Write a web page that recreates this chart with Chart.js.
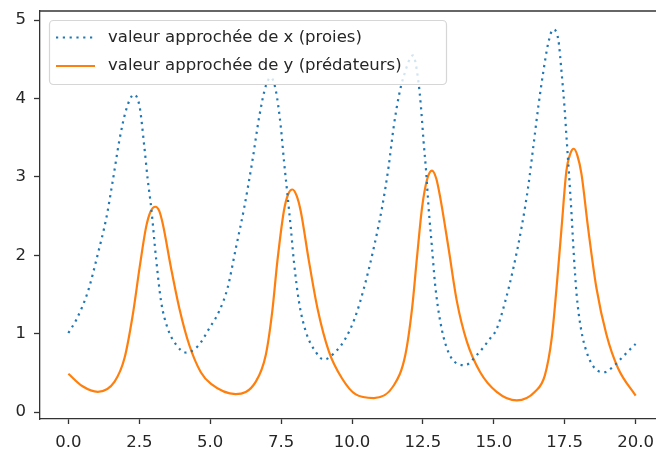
<!DOCTYPE html>
<html>
<head>
<meta charset="utf-8">
<script src="https://cdn.jsdelivr.net/npm/chart.js@4/dist/chart.umd.min.js"></script>
<style>
    html, body { margin: 0; padding: 0; background: #fff; overflow: hidden; }
    .wrap { width: 656px; height: 450px; overflow: hidden; }
    .box { width: 680px; height: 450px; }
</style>
</head>
<body>
<div class="wrap"><div class="box"><canvas class="lvGraph"></canvas></div></div>
<script>
// approximate values
const tProies = [0.00, 0.28, 0.69, 1.04, 1.34, 1.57, 1.80, 2.04, 2.31, 2.51, 2.68, 2.80, 2.92, 3.09, 3.27, 3.50, 3.80, 4.15, 4.56, 4.97,
    5.32, 5.61, 5.91, 6.20, 6.49, 6.73, 6.96, 7.14, 7.31, 7.49, 7.60, 7.72, 7.84, 7.95, 8.13, 8.37, 8.72, 9.01, 9.42, 9.77,
    10.10, 10.42, 10.77, 11.06, 11.29, 11.47, 11.65, 11.82, 12.15, 12.33, 12.43, 12.52, 12.62, 12.70, 12.82, 12.93, 13.11, 13.35, 13.70, 13.99,
    14.40, 14.87, 15.10, 15.40, 15.69, 15.98, 16.21, 16.39, 16.57, 16.74, 16.92, 17.09, 17.27, 17.39, 17.49, 17.57, 17.65, 17.74, 17.82, 17.92,
    18.07, 18.27, 18.56, 18.91, 19.26, 19.61, 19.91, 20.00];
const xProies = [1.01, 1.18, 1.54, 2.02, 2.48, 2.96, 3.47, 3.86, 4.05, 3.90, 3.38, 2.96, 2.61, 1.97, 1.41, 1.07, 0.86, 0.76, 0.84, 1.07,
    1.29, 1.58, 2.10, 2.61, 3.21, 3.77, 4.16, 4.27, 4.11, 3.64, 3.21, 2.79, 2.36, 1.93, 1.41, 1.03, 0.77, 0.67, 0.77, 0.94,
    1.20, 1.58, 2.10, 2.61, 3.13, 3.64, 4.03, 4.28, 4.55, 4.25, 3.90, 3.47, 3.04, 2.61, 2.10, 1.63, 1.16, 0.81, 0.62, 0.60,
    0.73, 0.94, 1.06, 1.41, 1.84, 2.36, 2.87, 3.38, 3.90, 4.33, 4.71, 4.88, 4.76, 4.33, 3.90, 3.47, 3.04, 2.53, 2.01, 1.50,
    1.07, 0.77, 0.56, 0.51, 0.60, 0.73, 0.84, 0.87];

const tPredateurs = [0.00, 0.50, 1.04, 1.63, 1.98, 2.27, 2.51, 2.74, 2.90, 3.07, 3.20, 3.33, 3.62, 3.91, 4.26, 4.67, 5.03, 5.90, 6.61, 6.96,
    7.19, 7.37, 7.60, 7.75, 7.90, 8.05, 8.19, 8.48, 8.78, 9.19, 9.65, 10.12, 10.77, 11.47, 11.88, 12.12, 12.29, 12.47, 12.65, 12.82,
    12.97, 13.11, 13.40, 13.70, 14.05, 14.52, 15.10, 15.81, 16.45, 16.80, 17.04, 17.21, 17.39, 17.56, 17.70, 17.82, 17.95, 18.09, 18.32, 18.62,
    18.97, 19.38, 20.00];
const yPredateurs = [0.49, 0.33, 0.26, 0.39, 0.69, 1.24, 1.84, 2.36, 2.56, 2.62, 2.57, 2.40, 1.84, 1.33, 0.86, 0.51, 0.36, 0.23, 0.39, 0.73,
    1.29, 1.93, 2.57, 2.78, 2.84, 2.76, 2.57, 1.93, 1.33, 0.77, 0.43, 0.23, 0.18, 0.34, 0.73, 1.33, 1.97, 2.61, 2.97, 3.08,
    2.98, 2.74, 2.10, 1.41, 0.90, 0.51, 0.26, 0.15, 0.26, 0.47, 0.94, 1.58, 2.36, 3.08, 3.30, 3.36, 3.27, 3.04, 2.36, 1.58,
    0.99, 0.56, 0.21];

const xTicks = [0, 2.5, 5, 7.5, 10, 12.5, 15, 17.5, 20];
const yTicks = [0, 1, 2, 3, 4, 5];

const labelFont = { family: 'DejaVu Sans', size: 16.5 };
const textColor = '#262626';

// top frame line + legend box drawn inside the axes, like matplotlib
const framePlugin = {
    id: 'frame',
    afterDraw(chart) {
        const ctx = chart.ctx;
        const area = chart.chartArea;
        ctx.save();
        ctx.strokeStyle = '#333';
        ctx.lineWidth = 1.3;
        ctx.beginPath();
        ctx.moveTo(area.left, area.top);
        ctx.lineTo(area.right, area.top);
        ctx.stroke();

        // legend
        const x0 = 49.5, y0 = 20.5, w = 397, h = 64, r = 4;
        ctx.beginPath();
        ctx.roundRect(x0, y0, w, h, r);
        ctx.fillStyle = 'rgba(255,255,255,0.8)';
        ctx.fill();
        ctx.strokeStyle = 'rgba(204,204,204,0.8)';
        ctx.lineWidth = 1.2;
        ctx.stroke();

        const rows = [37.5, 66];
        chart.data.datasets.forEach((ds, i) => {
            ctx.beginPath();
            ctx.strokeStyle = ds.borderColor;
            ctx.lineWidth = ds.borderWidth;
            ctx.setLineDash(ds.borderDash || []);
            ctx.moveTo(56, rows[i]);
            ctx.lineTo(95, rows[i]);
            ctx.stroke();
            ctx.setLineDash([]);
            ctx.fillStyle = textColor;
            ctx.font = '16.5px "DejaVu Sans"';
            ctx.textBaseline = 'middle';
            ctx.fillText(ds.label, 108, rows[i]);
        });
        ctx.restore();
    }
};

function createLVGraph() {
    const ctx = document.querySelector('.lvGraph').getContext('2d');
    return new Chart(ctx, {
        type: 'line',
        data: {
            datasets: [{
                label: 'valeur approchée de x (proies)',
                data: tProies.map((t, i) => ({ x: t, y: xProies[i] })),
                borderColor: '#1f77b4',
                borderWidth: 2.2,
                borderDash: [2.2, 4.6],
                pointRadius: 0,
                cubicInterpolationMode: 'monotone',
                fill: false
            }, {
                label: 'valeur approchée de y (prédateurs)',
                data: tPredateurs.map((t, i) => ({ x: t, y: yPredateurs[i] })),
                borderColor: '#ff7f0e',
                borderWidth: 2.2,
                pointRadius: 0,
                cubicInterpolationMode: 'monotone',
                fill: false
            }]
        },
        options: {
            responsive: true,
            maintainAspectRatio: false,
            animation: false,
            devicePixelRatio: 1,
            layout: {
                padding: { top: 11, right: 16, left: 0, bottom: 0 }
            },
            plugins: {
                legend: { display: false },
                tooltip: { enabled: false }
            },
            scales: {
                x: {
                    type: 'linear',
                    min: -1,
                    max: 21,
                    afterBuildTicks: scale => { scale.ticks = xTicks.map(v => ({ value: v })); },
                    afterFit: scale => { scale.height = 31; scale.paddingLeft = 0; scale.paddingRight = 0; },
                    grid: { drawOnChartArea: false, tickLength: 5, tickColor: '#333', tickWidth: 1.3 },
                    border: { color: '#333', width: 1.3 },
                    ticks: {
                        font: labelFont,
                        color: textColor,
                        padding: 9,
                        maxRotation: 0,
                        autoSkip: false,
                        callback: v => v.toFixed(1)
                    }
                },
                y: {
                    min: -0.087,
                    max: 5.117,
                    afterBuildTicks: scale => { scale.ticks = yTicks.map(v => ({ value: v })); },
                    afterFit: scale => { scale.width = 40; scale.paddingTop = 0; scale.paddingBottom = 0; },
                    grid: { drawOnChartArea: false, tickLength: 6, tickColor: '#333', tickWidth: 1.3 },
                    border: { color: '#333', width: 1.3 },
                    ticks: {
                        font: labelFont,
                        color: textColor,
                        padding: 8,
                        autoSkip: false,
                        callback: v => String(v)
                    }
                }
            }
        },
        plugins: [framePlugin]
    });
}

createLVGraph();
</script>
</body>
</html>
